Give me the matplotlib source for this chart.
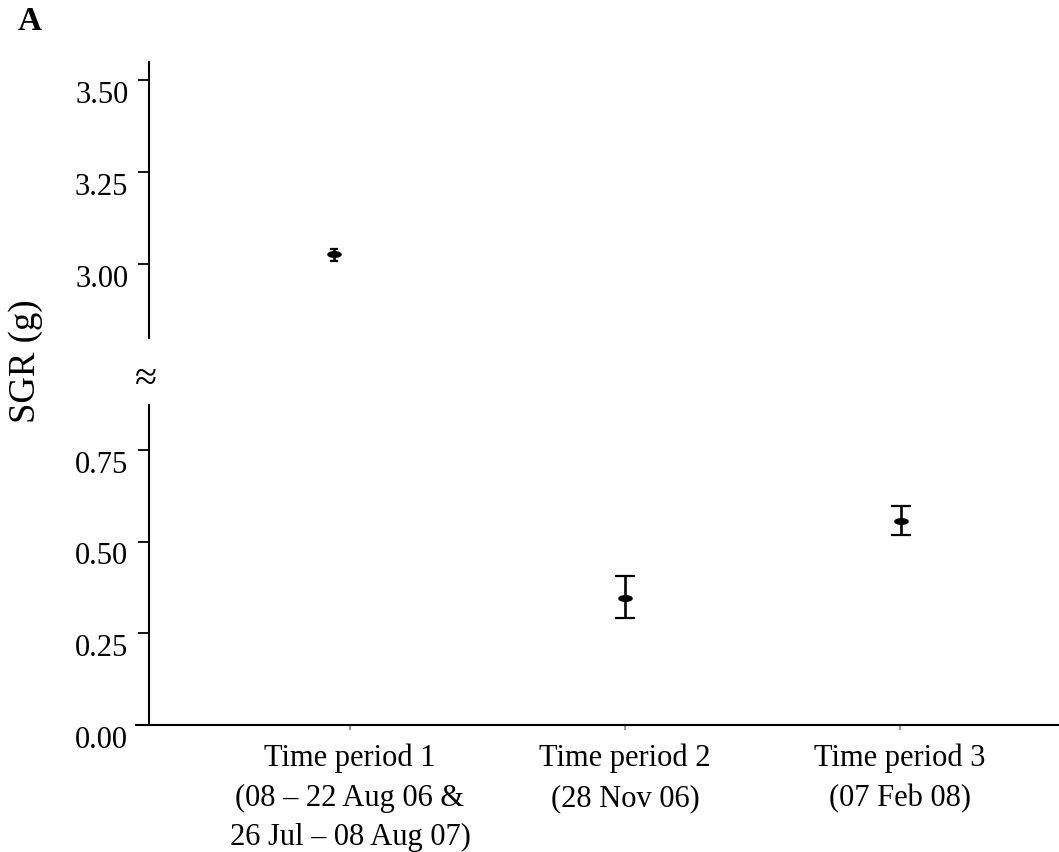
import matplotlib
matplotlib.use("Agg")
import matplotlib.pyplot as plt
from matplotlib.path import Path
from matplotlib.transforms import Affine2D, ScaledTranslation

plt.rcParams['font.family'] = ['Liberation Serif', 'DejaVu Serif']

categories = ["Time period 1\n(08 – 22 Aug 06 &\n26 Jul – 08 Aug 07)",
              "Time period 2\n(28 Nov 06)",
              "Time period 3\n(07 Feb 08)"]
means = [3.026, 0.346, 0.556]
lower_err = [0.017, 0.054, 0.038]
upper_err = [0.015, 0.060, 0.041]
x_shift = [-0.058, 0.0, 0.004]
capsizes = [2.9, 7.2, 7.2]
upper_ticks = [3.0, 3.25, 3.5]
lower_ticks = [0.0, 0.25, 0.5, 0.75]

W, H = 1059, 852
fig = plt.figure(figsize=(W / 100, H / 100), dpi=100)

def ax_rect(x0, y0, x1, y1):
    return [x0 / W, (H - y1) / H, (x1 - x0) / W, (y1 - y0) / H]

xl = (-0.778, 2.578)
spine_pos = 12.5 / 923

ax_lo = fig.add_axes(ax_rect(136, 405, 1059, 725))
ax_hi = fig.add_axes(ax_rect(136, 62, 1059, 338))

for ax in (ax_lo, ax_hi):
    ax.set_xlim(*xl)
    ax.spines['top'].set_visible(False)
    ax.spines['right'].set_visible(False)
    ax.spines['left'].set_position(('axes', spine_pos))
    ax.spines['left'].set_linewidth(1.5)
    ax.tick_params(axis='y', direction='out', length=8, width=1.3,
                   labelsize=22, pad=6.5)
    ax.patch.set_visible(False)

ax_hi.spines['bottom'].set_visible(False)
ax_hi.set_xticks([])
ax_hi.set_ylim(2.799, 3.549)
ax_hi.set_yticks(upper_ticks)
ax_hi.set_yticklabels([f"{t:.2f}" for t in upper_ticks])

ax_lo.spines['bottom'].set_linewidth(1.5)
ax_lo.set_ylim(0, 0.873)
ax_lo.set_yticks(lower_ticks)
ax_lo.set_yticklabels([f"{t:.2f}" for t in lower_ticks])
ax_lo.set_xticks(range(len(categories)))
ax_lo.set_xticklabels(categories, fontsize=22, linespacing=1.47)
ax_lo.tick_params(axis='x', direction='out', length=3.6, width=1.5,
                  color='#999999', pad=10)

# tick labels sit slightly below their ticks in the reference
shift = ScaledTranslation(0, -0.115, fig.dpi_scale_trans)
for ax in (ax_lo, ax_hi):
    for lab in ax.get_yticklabels():
        lab.set_transform(lab.get_transform() + shift)

ellipse = Path.unit_circle().transformed(Affine2D().scale(1.0, 0.42))

for i, (m, lo, hi, cs, dx) in enumerate(zip(means, lower_err, upper_err,
                                            capsizes, x_shift)):
    target = ax_hi if m > 2 else ax_lo
    target.errorbar([i + dx], [m], yerr=[[lo], [hi]], fmt='none',
                    ecolor='black', elinewidth=1.9, capsize=cs, capthick=1.6)
    target.plot([i + dx], [m], marker=ellipse, markersize=9.5,
                color='black', linestyle='none')

fig.text(146 / W, (H - 380) / H, "≈", fontsize=29, ha='center',
         va='center')
fig.text(26 / W, (H - 361) / H, "SGR (g)", fontsize=26.5, rotation=90,
         ha='center', va='center')
fig.text(29.5 / W, (H - 21) / H, "A", fontsize=24, fontweight='bold',
         ha='center', va='center')

fig.savefig("out.png", dpi=100)
